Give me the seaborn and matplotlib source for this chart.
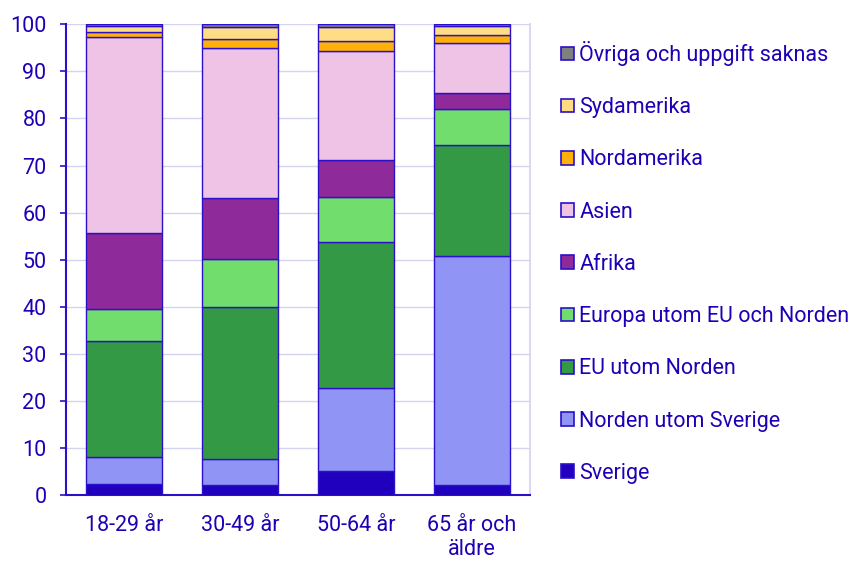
import matplotlib
matplotlib.use("Agg")
import matplotlib.pyplot as plt
import seaborn as sns
import numpy as np
from matplotlib.patches import Patch

categories = ["18-29 år", "30-49 år", "50-64 år", "65 år och\näldre"]
series_names = ["Sverige", "Norden utom Sverige", "EU utom Norden",
                "Europa utom EU och Norden", "Afrika", "Asien",
                "Nordamerika", "Sydamerika", "Övriga och uppgift saknas"]
sverige = [2.3, 2.2, 5.0, 2.1]
norden = [5.8, 5.4, 17.7, 48.7]
eu = [24.6, 32.3, 31.1, 23.6]
europa = [6.8, 10.2, 9.5, 7.6]
afrika = [16.2, 13.0, 7.9, 3.4]
asien = [41.5, 31.9, 23.1, 10.6]
nordamerika = [1.1, 1.8, 2.2, 1.8]
sydamerika = [1.3, 2.6, 2.9, 1.8]
ovriga = [0.4, 0.6, 0.6, 0.4]
yticks = list(range(0, 101, 10))

colors = ["#2000BE", "#8F94F5", "#339944", "#70DD6C", "#8E2A9A",
          "#EFC3E6", "#FFB10A", "#FFDD85", "#808080"]
edge = "#2A10C8"
txt = "#1F00B5"
fs = 15.5

sns.set_theme(style="white")
plt.rcParams["font.family"] = ["Roboto", "DejaVu Sans"]

fig = plt.figure(figsize=(8.53, 5.61), dpi=100)
ax = fig.add_axes([66/853, 1-495/561, (530-66)/853, (495-24.3)/561])

all_series = [sverige, norden, eu, europa, afrika, asien, nordamerika, sydamerika, ovriga]
bottom = np.zeros(len(categories))
for name, vals, c in zip(series_names, all_series, colors):
    sns.barplot(x=categories, y=vals, bottom=bottom, color=c, edgecolor=edge,
                linewidth=1.0, width=0.66, ax=ax, saturation=1, zorder=3)
    bottom = bottom + np.array(vals)

ax.set_ylim(0, 100)
ax.set_xlim(-0.5, 3.5)
ax.set_yticks(yticks)
ax.set_yticklabels([str(t) for t in yticks])
ax.yaxis.grid(True, color="#D4D4F0", linewidth=1, zorder=0)
ax.set_axisbelow(True)
for s in ["left", "bottom"]:
    ax.spines[s].set_color(edge)
    ax.spines[s].set_linewidth(1.5)
ax.spines["right"].set_color("#D4D4F0")
ax.spines["top"].set_visible(False)

ax.set_xticks(range(len(categories)))
ax.set_xticklabels(categories)
ax.set_xticks(np.arange(-0.5, 4.0, 1.0), minor=True)
ax.tick_params(axis="x", which="major", length=0, pad=14.5, labelsize=fs, labelcolor=txt)
ax.tick_params(axis="x", which="minor", length=5.5, width=1.2, color=edge, direction="out")
ax.tick_params(axis="y", length=4.5, width=1.2, color=edge, pad=9.5, labelsize=fs,
               labelcolor=txt, left=True)
ax.set_xlabel("")
ax.set_ylabel("")

handles = [Patch(facecolor=c, edgecolor=edge, linewidth=1.2, label=n)
           for n, c in zip(series_names, colors)][::-1]
leg = fig.legend(handles=handles, loc="upper left", bbox_to_anchor=(561/853, 1-41/561),
                 frameon=False, fontsize=fs, labelspacing=1.45, handlelength=0.6,
                 handleheight=0.6, handletextpad=0.25, borderaxespad=0, borderpad=0)
for t in leg.get_texts():
    t.set_color(txt)

fig.savefig("out.png", dpi=100)
